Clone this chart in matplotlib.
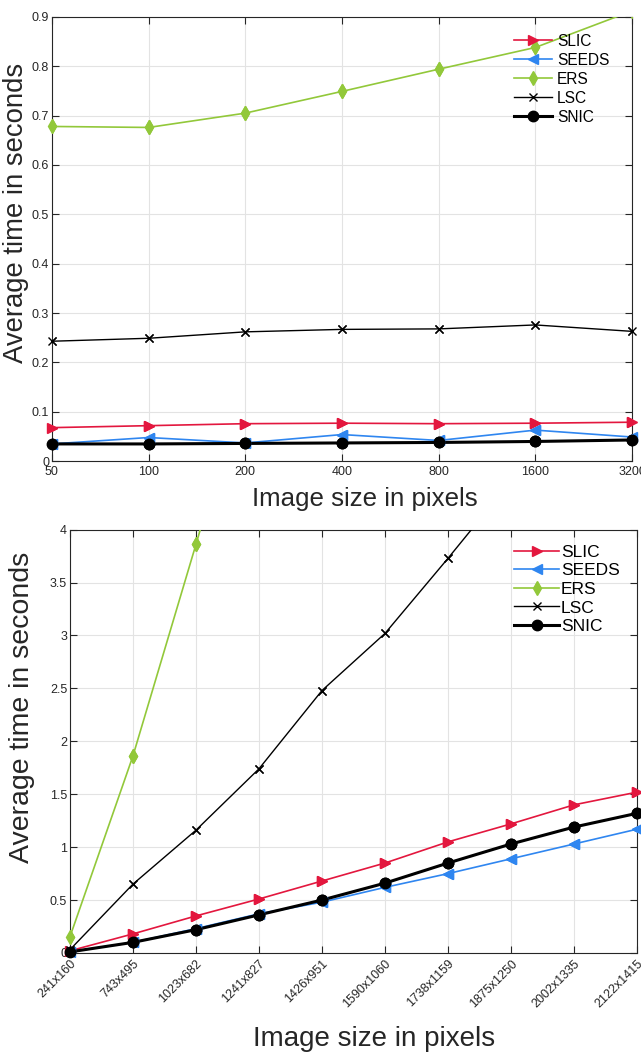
import matplotlib
matplotlib.use('Agg')
import matplotlib.pyplot as plt
import numpy as np

plt.rcParams['font.family'] = ['Liberation Sans', 'DejaVu Sans']

# top panel: image size (short side) in pixels
TOP_SIZES = [50, 100, 200, 400, 800, 1600, 3200]
TOP_SLIC = [0.068, 0.072, 0.076, 0.077, 0.076, 0.077, 0.079]
TOP_SEEDS = [0.035, 0.048, 0.037, 0.054, 0.042, 0.063, 0.049]
TOP_ERS = [0.678, 0.676, 0.705, 0.749, 0.794, 0.838, 0.912]
TOP_LSC = [0.243, 0.249, 0.262, 0.267, 0.268, 0.276, 0.263]
TOP_SNIC = [0.035, 0.035, 0.036, 0.037, 0.038, 0.040, 0.043]

# bottom panel: image dimensions
BOT_LABELS = ['241x160', '743x495', '1023x682', '1241x827', '1426x951',
              '1590x1060', '1738x1159', '1875x1250', '2002x1335', '2122x1415']
BOT_SLIC = [0.02, 0.18, 0.35, 0.51, 0.68, 0.85, 1.05, 1.22, 1.40, 1.52]
BOT_SEEDS = [0.01, 0.10, 0.23, 0.37, 0.48, 0.62, 0.75, 0.89, 1.03, 1.17]
BOT_ERS = [0.15, 1.86, 3.86, 5.90]
BOT_LSC = [0.03, 0.65, 1.16, 1.74, 2.48, 3.02, 3.73, 4.46]
BOT_SNIC = [0.01, 0.10, 0.22, 0.36, 0.50, 0.66, 0.85, 1.03, 1.19, 1.32]

STYLES = {
    'SLIC': dict(color='#E3173E', marker='>', lw=1.2, ms=7.5),
    'SEEDS': dict(color='#2F86F0', marker='<', lw=1.2, ms=7.5),
    'ERS': dict(color='#92C83A', marker='d', lw=1.2, ms=7.5),
    'LSC': dict(color='black', marker='x', lw=1.0, ms=5.5),
    'SNIC': dict(color='black', marker='o', lw=2.2, ms=7.5),
}
TEXT = '#262626'


def draw_series(ax, x, series, ymax):
    for name, y in series:
        st = STYLES[name]
        x_ = np.asarray(x[:len(y)], dtype=float)
        y_ = np.asarray(y, dtype=float)
        ax.plot(x_, y_, color=st['color'], lw=st['lw'], marker=st['marker'],
                ms=st['ms'], mew=1.0, label=name, zorder=3)
        inside = y_ <= ymax
        ax.plot(x_[inside], y_[inside], ls='none', color=st['color'],
                marker=st['marker'], ms=st['ms'], mew=1.0, clip_on=False, zorder=4)


def style_axes(ax):
    ax.grid(True, color='#e3e3e3', lw=0.8)
    ax.set_axisbelow(True)
    ax.tick_params(direction='in', top=True, right=True, labelsize=9,
                   colors=TEXT, length=5)
    ax.tick_params(axis='y', pad=2)
    for s in ax.spines.values():
        s.set_color(TEXT)
        s.set_linewidth(0.8)


fig = plt.figure(figsize=(6.41, 10.53), dpi=100)

# top panel
ax1 = fig.add_axes([0.081, 0.562, 0.905, 0.422])
ax1.set_xscale('log', base=2)
draw_series(ax1, TOP_SIZES, [('SLIC', TOP_SLIC), ('SEEDS', TOP_SEEDS),
                             ('ERS', TOP_ERS), ('LSC', TOP_LSC),
                             ('SNIC', TOP_SNIC)], 0.9)
ax1.set_xlim(TOP_SIZES[0], TOP_SIZES[-1])
ax1.set_ylim(0, 0.9)
ax1.set_xticks(TOP_SIZES)
ax1.set_xticklabels([str(s) for s in TOP_SIZES])
ax1.minorticks_off()
ax1.set_yticks(np.arange(0, 0.91, 0.1))
ax1.set_yticklabels(['0'] + ['%.1f' % v for v in np.arange(0.1, 0.91, 0.1)])
ax1.set_xlabel('Image size in pixels', fontsize=18.6, color=TEXT)
ax1.set_ylabel('Average time in seconds', fontsize=19.8, color=TEXT)
ax1.xaxis.set_label_coords(0.54, -0.058)
ax1.yaxis.set_label_coords(-0.04, 0.559)
style_axes(ax1)
ax1.legend(loc='upper left', bbox_to_anchor=(0.797, 0.962), frameon=False,
           fontsize=11.2, handlelength=2.45, handletextpad=0.3,
           labelspacing=0.26, borderaxespad=0, borderpad=0)

# bottom panel
ax2 = fig.add_axes([0.109, 0.095, 0.885, 0.402])
xb = np.arange(len(BOT_LABELS))
draw_series(ax2, xb, [('SLIC', BOT_SLIC), ('SEEDS', BOT_SEEDS),
                      ('ERS', BOT_ERS), ('LSC', BOT_LSC),
                      ('SNIC', BOT_SNIC)], 4.0)
ax2.set_xlim(0, len(BOT_LABELS) - 1)
ax2.set_ylim(0, 4)
ax2.set_xticks(xb)
ax2.set_xticklabels(BOT_LABELS, rotation=45, ha='right', rotation_mode='anchor')
ax2.set_yticks(np.arange(0, 4.01, 0.5))
ax2.set_yticklabels(['0', '0.5', '1', '1.5', '2', '2.5', '3', '3.5', '4'])
ax2.set_xlabel('Image size in pixels', fontsize=20, color=TEXT)
ax2.set_ylabel('Average time in seconds', fontsize=20.5, color=TEXT)
ax2.xaxis.set_label_coords(0.536, -0.172)
ax2.yaxis.set_label_coords(-0.062, 0.58)
style_axes(ax2)
ax2.legend(loc='upper left', bbox_to_anchor=(0.783, 0.965), frameon=False,
           fontsize=12.5, handlelength=2.6, handletextpad=0.1,
           labelspacing=0.2, borderaxespad=0, borderpad=0)

fig.savefig('out.png', dpi=100)
